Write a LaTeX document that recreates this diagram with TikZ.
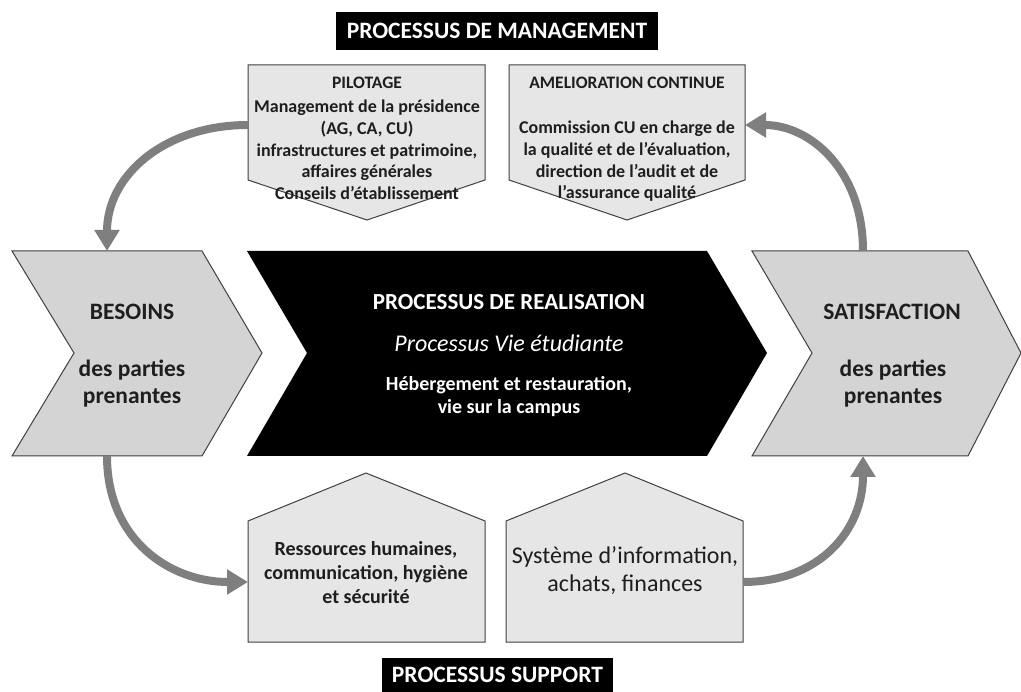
\documentclass[tikz,border=0pt]{standalone}
\usepackage{fontspec}
\setmainfont{Carlito}
\usetikzlibrary{arrows.meta}
\definecolor{chev}{HTML}{D4D4D4}
\definecolor{pent}{HTML}{E6E6E6}
\definecolor{edgec}{HTML}{404040}
\definecolor{arr}{HTML}{7F7F7F}
\definecolor{txt}{HTML}{1E1E1E}
\tikzset{
  chevshape/.style={fill=chev, draw=edgec, line width=1pt},
  pentshape/.style={fill=pent, draw=edgec, line width=1pt},
  lbl/.style={align=center, font=\bfseries\fontsize{18}{21.7}\selectfont, text=txt, inner sep=0pt},
  sublbl/.style={align=center, font=\bfseries\fontsize{17.5}{20}\selectfont, text=txt, inner sep=0pt},
  biglbl/.style={align=center, font=\bfseries\fontsize{23.5}{27}\selectfont, text=txt, inner sep=0pt},
  whitelbl/.style={align=center, text=white, inner sep=0pt},
  title/.style={fill=black, text=white, font=\bfseries\fontsize{23.5}{26}\selectfont, inner sep=0pt},
  flow/.style={draw=arr, line width=8pt, -{Triangle[width=24pt,length=21pt]}},
}
\begin{document}
\begin{tikzpicture}[x=1pt,y=-1pt]
\useasboundingbox (0,0) rectangle (1021,692);
\fill[white] (0,0) rectangle (1021,692);

% titles
\node[title, minimum width=322pt, minimum height=38pt] (mgmt) at (497,31) {PROCESSUS DE MANAGEMENT};
\node[title, minimum width=231pt, minimum height=34pt] (supp) at (497.5,675) {PROCESSUS SUPPORT};

% management pentagons
\draw[pentshape] (248,65) -- (485,65) -- (485,180) -- (367,220) -- (248,180) -- cycle;
\draw[pentshape] (509,65) -- (745,65) -- (745,180) -- (627,220) -- (509,180) -- cycle;
\node[sublbl] (pilT) at (367,83) {PILOTAGE};
\node[lbl] (pilB) at (367,150) {Management de la présidence\\(AG, CA, CU)\\infrastructures et patrimoine,\\affaires générales\\Conseils d’établissement};
\node[sublbl] (amT) at (627,83) {AMELIORATION CONTINUE};
\node[lbl] (amB) at (627,161.5) {Commission CU en charge de\\la qualité et de l’évaluation,\\direction de l’audit et de\\l’assurance qualité};

% support pentagons
\draw[pentshape] (248,521) -- (366,473) -- (485,521) -- (485,642) -- (248,642) -- cycle;
\draw[pentshape] (506,521) -- (625,473) -- (743,521) -- (743,642) -- (506,642) -- cycle;
\node[lbl, font=\bfseries\fontsize{20}{24}\selectfont] (rh) at (366,573) {Ressources humaines,\\communication, hygiène\\et sécurité};
\node[align=center, font=\fontsize{24}{28}\selectfont, text=txt, inner sep=0pt] (si) at (625,571) {Système d’information,\\achats, finances};

% chevrons
\draw[chevshape] (12,251) -- (202,251) -- (262,353) -- (202,456) -- (12,456) -- (74,353) -- cycle;
\fill[black] (247,251) -- (707,251) -- (767,353) -- (707,456) -- (247,456) -- (307,353) -- cycle;
\draw[chevshape] (752,251) -- (968,251) -- (1021,353) -- (968,456) -- (752,456) -- (812,353) -- cycle;

\node[biglbl] (besT) at (132,312) {BESOINS};
\node[biglbl] (besB) at (132,383.5) {des parties\\prenantes};
\node[biglbl] (satT) at (892,312) {SATISFACTION};
\node[biglbl] (satB) at (893,383.5) {des parties\\prenantes};

\node[whitelbl, font=\bfseries\fontsize{23}{25}\selectfont] (realT) at (509,302) {PROCESSUS DE REALISATION};
\node[whitelbl, font=\itshape\fontsize{24}{26}\selectfont] (realS) at (509,343) {Processus Vie étudiante};
\node[whitelbl, font=\bfseries\fontsize{20}{23}\selectfont] (realB) at (509,396.5) {Hébergement et restauration,\\vie sur la campus};

% connector end points
\coordinate (pilW) at (248,125);
\coordinate (besN) at (107,251);
\coordinate (besS) at (107,456);
\coordinate (rhW) at (248,582);
\coordinate (siE) at (743,582);
\coordinate (satS) at (863,456);
\coordinate (satN) at (863,251);
\coordinate (amE) at (745,125);

\draw[flow] (pilW) .. controls (165,125) and (107,175) .. (besN);
\draw[flow] (besS) .. controls (107,540) and (170,582) .. (rhW);
\draw[flow] (siE) .. controls (820,582) and (863,530) .. (satS);
\draw[flow] (satN) .. controls (863,170) and (810,125) .. (amE);
\end{tikzpicture}
\end{document}
